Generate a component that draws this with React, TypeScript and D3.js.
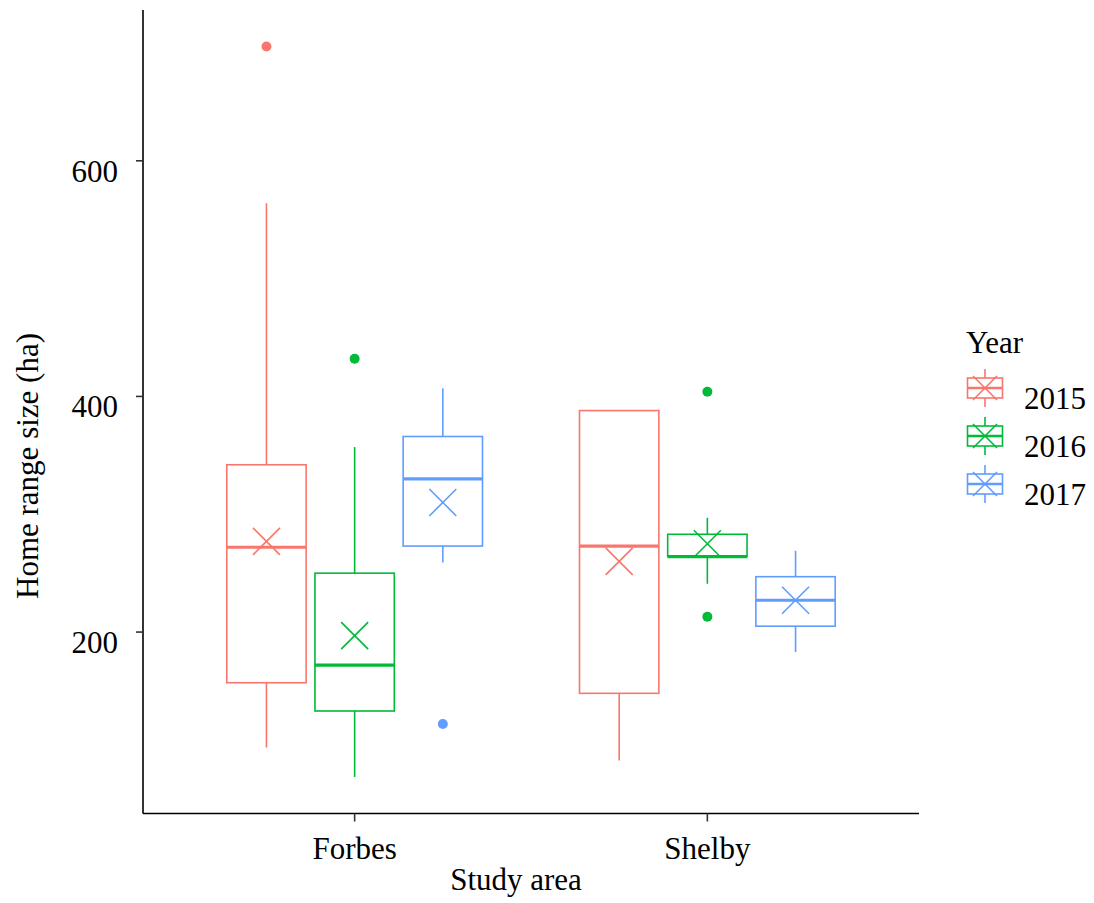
// @ts-nocheck
import React, { useEffect, useRef } from "react";
import * as d3 from "d3";

// study areas and years (one box per area x year)
const areas = ["Forbes", "Shelby"];
const years = ["2015", "2016", "2017"];
const colors = ["#F8766D", "#00BA38", "#619CFF"];

// box stats, order: Forbes 2015, 2016, 2017, Shelby 2015, 2016, 2017
const whiskerLow = [102, 77, 259, 91, 241, 183];
const q1 = [157, 133, 273, 148, 264, 205];
const median = [272, 172, 330, 273, 264, 227];
const q3 = [342, 250, 366, 388, 283, 247];
const whiskerHigh = [564, 357, 407, 388, 297, 269];
const means = [277, 197, 310, 260, 275, 227];
const outliers = [[697], [432], [122], [], [404, 213], []];

const yTicks = [200, 400, 600];

export default function App() {
  const ref = useRef();

  useEffect(() => {
    d3.select(ref.current).selectAll("*").remove();

    const W = 1094;
    const H = 903;
    const left = 143;
    const right = 919;
    const top = 10;
    const bottom = 813.5;
    const font = "'Liberation Serif', 'Times New Roman', serif";

    const svg = d3
      .select(ref.current)
      .append("svg")
      .attr("width", W)
      .attr("height", H)
      .style("position", "absolute")
      .style("left", 0)
      .style("top", 0)
      .style("font-family", font);

    const x = d3.scalePoint().domain(areas).range([left, right]).padding(0.6);
    const step = x.step();
    const dodge = d3
      .scaleBand()
      .domain(years)
      .range([-0.375 * step, 0.375 * step]);
    const boxW = dodge.bandwidth() * 0.9;

    const allVals = whiskerLow.concat(whiskerHigh, outliers.flat());
    const [lo, hi] = d3.extent(allVals);
    const pad = (hi - lo) * 0.05;
    const y = d3.scaleLinear().domain([lo - pad, hi + pad]).range([bottom, top]);

    // boxes
    const boxes = [];
    areas.forEach((a, i) =>
      years.forEach((yr, j) => {
        const k = i * years.length + j;
        boxes.push({
          cx: x(a) + dodge(yr) + dodge.bandwidth() / 2,
          color: colors[j],
          lo: whiskerLow[k],
          q1: q1[k],
          med: median[k],
          q3: q3[k],
          hi: whiskerHigh[k],
          mean: means[k],
          out: outliers[k],
        });
      }),
    );

    const g = svg.append("g");
    boxes.forEach((b) => {
      const bg = g.append("g").attr("stroke", b.color).attr("fill", "none");
      // whiskers
      bg.append("line")
        .attr("x1", b.cx).attr("x2", b.cx)
        .attr("y1", y(b.hi)).attr("y2", y(b.q3))
        .attr("stroke-width", 1.6);
      bg.append("line")
        .attr("x1", b.cx).attr("x2", b.cx)
        .attr("y1", y(b.q1)).attr("y2", y(b.lo))
        .attr("stroke-width", 1.6);
      // box
      bg.append("rect")
        .attr("x", b.cx - boxW / 2)
        .attr("y", y(b.q3))
        .attr("width", boxW)
        .attr("height", Math.max(0, y(b.q1) - y(b.q3)))
        .attr("fill", "white")
        .attr("stroke-width", 1.6);
      // median
      bg.append("line")
        .attr("x1", b.cx - boxW / 2).attr("x2", b.cx + boxW / 2)
        .attr("y1", y(b.med)).attr("y2", y(b.med))
        .attr("stroke-width", 3.2);
      // outliers
      b.out.forEach((o) => {
        bg.append("circle")
          .attr("cx", b.cx)
          .attr("cy", y(o))
          .attr("r", 5)
          .attr("fill", b.color)
          .attr("stroke", "none");
      });
      // mean cross
      const s = 13.5;
      const my = y(b.mean);
      bg.append("path")
        .attr("d", `M${b.cx - s},${my - s}L${b.cx + s},${my + s}M${b.cx - s},${my + s}L${b.cx + s},${my - s}`)
        .attr("stroke-width", 1.6);
    });

    // axes
    svg.append("line")
      .attr("x1", left).attr("x2", left)
      .attr("y1", top).attr("y2", bottom)
      .attr("stroke", "black").attr("stroke-width", 1.6);
    svg.append("line")
      .attr("x1", left).attr("x2", right)
      .attr("y1", bottom).attr("y2", bottom)
      .attr("stroke", "black").attr("stroke-width", 1.6);

    yTicks.forEach((t) => {
      svg.append("line")
        .attr("x1", left - 7).attr("x2", left)
        .attr("y1", y(t)).attr("y2", y(t))
        .attr("stroke", "#333").attr("stroke-width", 1.6);
      svg.append("text")
        .attr("x", 118)
        .attr("y", y(t) + 21)
        .attr("text-anchor", "end")
        .attr("font-size", 31)
        .text(t);
    });

    areas.forEach((a) => {
      svg.append("line")
        .attr("x1", x(a)).attr("x2", x(a))
        .attr("y1", bottom).attr("y2", bottom + 8)
        .attr("stroke", "#333").attr("stroke-width", 1.6);
      svg.append("text")
        .attr("x", x(a))
        .attr("y", 859)
        .attr("text-anchor", "middle")
        .attr("font-size", 31)
        .text(a);
    });

    svg.append("text")
      .attr("x", 516)
      .attr("y", 890)
      .attr("text-anchor", "middle")
      .attr("font-size", 31)
      .text("Study area");

    svg.append("text")
      .attr("transform", "translate(38,466) rotate(-90)")
      .attr("text-anchor", "middle")
      .attr("font-size", 31)
      .text("Home range size (ha)");

    // legend
    const legend = svg.append("g").attr("transform", "translate(966,0)");
    legend.append("text")
      .attr("x", 0)
      .attr("y", 353)
      .attr("font-size", 31)
      .text("Year");

    years.forEach((yr, j) => {
      const cy = 388 + j * 48;
      const kx = 19;
      const kw = 35;
      const kh = 20;
      const kg = legend.append("g").attr("stroke", colors[j]).attr("fill", "none").attr("stroke-width", 1.6);
      kg.append("line").attr("x1", kx).attr("x2", kx).attr("y1", cy - 19).attr("y2", cy + 19);
      kg.append("rect")
        .attr("x", kx - kw / 2).attr("y", cy - kh / 2)
        .attr("width", kw).attr("height", kh)
        .attr("fill", "white");
      kg.append("line")
        .attr("x1", kx - kw / 2).attr("x2", kx + kw / 2)
        .attr("y1", cy).attr("y2", cy)
        .attr("stroke-width", 2.4);
      const s = 12;
      kg.append("path")
        .attr("d", `M${kx - s},${cy - s}L${kx + s},${cy + s}M${kx - s},${cy + s}L${kx + s},${cy - s}`);
      legend.append("text")
        .attr("x", 58)
        .attr("y", cy + 21)
        .attr("font-size", 31)
        .text(yr);
    });
  }, []);

  return <div ref={ref} style={{ width: 1094, height: 903 }}></div>;
}
